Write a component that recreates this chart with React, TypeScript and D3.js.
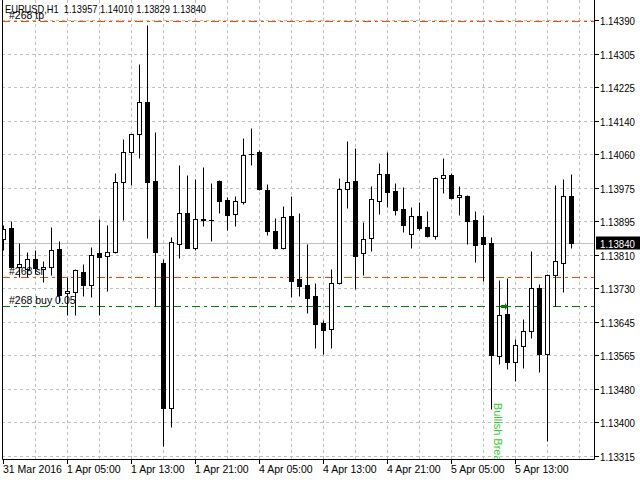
import { useEffect, useRef } from 'react';
import * as d3 from 'd3';

// EURUSD H1 bars, 31 Mar 21:00 .. 5 Apr 20:00
const opens = [
  1.1385, 1.13877, 1.13781, 1.13776, 1.13801, 1.13776, 1.13781, 1.13825, 1.13717, 1.13719,
  1.13769, 1.13737, 1.13815, 1.13808, 1.13818, 1.13991, 1.14065, 1.14109, 1.14188, 1.13993,
  1.13791, 1.13433, 1.13838, 1.13914, 1.13828, 1.13898, 1.13897, 1.13993, 1.13946, 1.13912,
  1.13941, 1.1406, 1.14065, 1.13971, 1.1387, 1.13828, 1.13907, 1.13751, 1.13737, 1.1371,
  1.13643, 1.13628, 1.13742, 1.13973, 1.13993, 1.13815, 1.13852, 1.13944, 1.1401, 1.13968,
  1.13924, 1.13862, 1.13907, 1.1388, 1.13857, 1.14, 1.14008, 1.13954, 1.13956, 1.13897,
  1.13855, 1.1384, 1.13562, 1.13665, 1.13547, 1.13586, 1.13623, 1.13729, 1.13567, 1.13761,
  1.13791, 1.13957,
];
const highs = [
  1.13885, 1.13894, 1.1384, 1.13818, 1.13823, 1.13796, 1.1388, 1.13845, 1.13756, 1.13776,
  1.13788, 1.1383, 1.13899, 1.13885, 1.14013, 1.14097, 1.14109, 1.14282, 1.14378, 1.14114,
  1.13801, 1.13855, 1.14033, 1.14008, 1.13998, 1.14028, 1.13988, 1.13996, 1.13954, 1.13956,
  1.14099, 1.14124, 1.14069, 1.13986, 1.13902, 1.13931, 1.13956, 1.13914, 1.13838, 1.13742,
  1.1365, 1.13776, 1.14, 1.14092, 1.14074, 1.13892, 1.13981, 1.14037, 1.14065, 1.13988,
  1.13978, 1.13929, 1.13941, 1.13919, 1.14003, 1.1405, 1.14013, 1.13981, 1.13958, 1.13919,
  1.13909, 1.13855, 1.13749, 1.13754, 1.13603, 1.13653, 1.1382, 1.13739, 1.13763, 1.13983,
  1.13998, 1.1401,
];
const lows = [
  1.13823, 1.13779, 1.13756, 1.13756, 1.13764, 1.13744, 1.13761, 1.13695, 1.13663, 1.13663,
  1.1371, 1.13707, 1.13663, 1.13722, 1.13816, 1.13897, 1.13983, 1.1405, 1.13852, 1.13685,
  1.1334, 1.13387, 1.13803, 1.13828, 1.13823, 1.13882, 1.13845, 1.13914, 1.13872, 1.13882,
  1.13936, 1.14033, 1.1397, 1.1386, 1.13825, 1.13825, 1.13707, 1.1371, 1.13668, 1.13581,
  1.13567, 1.13581, 1.1374, 1.13926, 1.13727, 1.13761, 1.1382, 1.13912, 1.13929, 1.13909,
  1.13867, 1.13828, 1.13872, 1.13855, 1.1385, 1.13963, 1.13949, 1.13909, 1.13838, 1.13793,
  1.13747, 1.13431, 1.13542, 1.1353, 1.135, 1.13532, 1.13606, 1.13522, 1.13352, 1.13685,
  1.13719, 1.13829,
];
const closes = [
  1.13875, 1.13781, 1.13788, 1.13801, 1.13779, 1.13781, 1.13823, 1.13712, 1.13722, 1.13774,
  1.13737, 1.13811, 1.13806, 1.13818, 1.13991, 1.14065, 1.14109, 1.14188, 1.13991, 1.13818,
  1.13433, 1.13843, 1.13914, 1.13828, 1.13899, 1.13899, 1.13897, 1.13944, 1.13909, 1.13944,
  1.14057, 1.1406, 1.13973, 1.1387, 1.13828, 1.13904, 1.13747, 1.13734, 1.13705, 1.1364,
  1.13626, 1.13742, 1.13973, 1.13991, 1.13808, 1.1385, 1.13949, 1.1401, 1.13966, 1.13922,
  1.13885, 1.13907, 1.13877, 1.13857, 1.14, 1.14008, 1.13951, 1.13958, 1.13894, 1.13835,
  1.13838, 1.13564, 1.13663, 1.13547, 1.13589, 1.13623, 1.13729, 1.13567, 1.13761, 1.13796,
  1.13956, 1.1384,
];

const timeLabels = [
  '31 Mar 2016', '1 Apr 05:00', '1 Apr 13:00', '1 Apr 21:00', '4 Apr 05:00',
  '4 Apr 13:00', '4 Apr 21:00', '5 Apr 05:00', '5 Apr 13:00',
];
const barsPerLabel = 8;
const barsPerGrid = 4;

const priceTicks = [
  1.1439, 1.14305, 1.14225, 1.1414, 1.1406, 1.13975, 1.13895,
  1.1381, 1.1373, 1.13645, 1.13565, 1.1348, 1.134, 1.13315,
];

const symbol = 'EURUSD,H1';
const bid = 1.1384;

const orderNames = ['#268 tp', '#268 sl', '#268 buy 0.05'];
const orderPrices = [1.14388, 1.13756, 1.13685];
const orderColors = ['#ff4500', '#ff4500', '#008000'];

const entryBar = 63;
const signalBar = 61;
const signalPrice = 1.13446;
const signalText = 'Bullish Break';

const W = 640;
const H = 480;
const FONT = "'Liberation Sans', Arial, sans-serif";

export default function App() {
  const svgRef = useRef<SVGSVGElement>(null);

  useEffect(() => {
    if (!svgRef.current) return;
    const svg = d3.select(svgRef.current);
    svg.selectAll('*').remove();

    const n = opens.length;
    const left = 2, right = 594, bottom = 459;

    const x = d3.scaleLinear().domain([0, n - 1]).range([3, 3 + 8 * (n - 1)]);
    const y = d3.scaleLinear().domain([1.13315, 1.1439]).range([456, 20]);
    const px = (i: number) => Math.round(x(i)) + 0.5;
    const py = (p: number) => Math.round(y(p)) + 0.5;

    svg.append('rect').attr('width', W).attr('height', H).attr('fill', '#fff');

    svg.append('defs').append('clipPath').attr('id', 'plotClip')
      .append('rect').attr('x', left + 1).attr('y', 0)
      .attr('width', right - left - 1).attr('height', bottom);

    const plot = svg.append('g').attr('clip-path', 'url(#plotClip)');

    // grid
    plot.selectAll('line.vg')
      .data(d3.range(barsPerGrid, n + 1, barsPerGrid))
      .join('line')
      .attr('x1', (i) => px(i)).attr('x2', (i) => px(i))
      .attr('y1', 0).attr('y2', bottom)
      .attr('stroke', '#c0c0c0').attr('stroke-dasharray', '3,3');

    plot.selectAll('line.hg')
      .data(priceTicks)
      .join('line')
      .attr('x1', left).attr('x2', right)
      .attr('y1', (d) => py(d)).attr('y2', (d) => py(d))
      .attr('stroke', '#c0c0c0').attr('stroke-dasharray', '3,3');

    // bid line
    plot.append('line')
      .attr('x1', left).attr('x2', right)
      .attr('y1', py(bid)).attr('y2', py(bid))
      .attr('stroke', '#c0c0c0');

    // order lines
    orderPrices.forEach((p, k) => {
      plot.append('line')
        .attr('x1', left).attr('x2', right)
        .attr('y1', py(p)).attr('y2', py(p))
        .attr('stroke', orderColors[k])
        .attr('stroke-dasharray', '8,4,3,4');
    });

    // candles
    d3.range(n).forEach((i) => {
      const o = opens[i], c = closes[i];
      const cx = px(i);
      plot.append('line')
        .attr('x1', cx).attr('x2', cx)
        .attr('y1', py(highs[i])).attr('y2', py(lows[i]))
        .attr('stroke', '#000');
      const top = Math.round(y(Math.max(o, c)));
      const bot = Math.round(y(Math.min(o, c)));
      if (bot - top < 1) {
        plot.append('line')
          .attr('x1', cx - 2.5).attr('x2', cx + 2.5)
          .attr('y1', top + 0.5).attr('y2', top + 0.5)
          .attr('stroke', '#000');
      } else {
        plot.append('rect')
          .attr('x', cx - 2).attr('y', top + 0.5)
          .attr('width', 4).attr('height', bot - top)
          .attr('fill', c >= o ? '#fff' : '#000')
          .attr('stroke', '#000');
      }
    });

    // order labels
    orderPrices.forEach((p, k) => {
      plot.append('text')
        .attr('x', 9).attr('y', py(p) - 2.5)
        .attr('font-family', FONT).attr('font-size', 10.5)
        .text(orderNames[k]);
    });

    // entry arrow
    const ax = Math.round(x(entryBar)) - 2;
    const ay = Math.round(y(orderPrices[2]));
    plot.append('path')
      .attr('d', `M${ax - 4},${ay - 1}H${ax}V${ay - 3}L${ax + 3},${ay + 0.5}L${ax},${ay + 4}V${ay + 2}H${ax - 4}Z`)
      .attr('fill', '#008000');

    // signal text
    plot.append('text')
      .attr('transform', `translate(${Math.round(x(signalBar)) + 3},${y(signalPrice)}) rotate(90)`)
      .attr('font-family', FONT).attr('font-size', 11)
      .attr('fill', '#32cd32')
      .text(signalText);

    // header
    const last = n - 1;
    svg.append('text')
      .attr('x', 5).attr('y', 13)
      .attr('font-family', FONT).attr('font-size', 10.5)
      .attr('xml:space', 'preserve')
      .attr('textLength', 201).attr('lengthAdjust', 'spacingAndGlyphs')
      .text(`${symbol}  ${[opens[last], highs[last], lows[last], closes[last]].map((v) => v.toFixed(5)).join(' ')}`);

    // frame
    svg.append('path')
      .attr('d', `M${left + 0.5},0V${bottom + 0.5}H${right + 0.5}V0`)
      .attr('fill', 'none').attr('stroke', '#000');

    // price axis
    const pa = svg.append('g');
    pa.selectAll('line')
      .data(priceTicks)
      .join('line')
      .attr('x1', right + 1).attr('x2', right + 5)
      .attr('y1', (d) => py(d)).attr('y2', (d) => py(d))
      .attr('stroke', '#000');
    pa.selectAll('text')
      .data(priceTicks)
      .join('text')
      .attr('x', 600).attr('y', (d) => py(d) + 4)
      .attr('font-family', FONT).attr('font-size', 10.5)
      .attr('textLength', 35).attr('lengthAdjust', 'spacingAndGlyphs')
      .text((d) => d.toFixed(5));

    pa.append('rect')
      .attr('x', 596).attr('y', py(bid) - 7)
      .attr('width', 44).attr('height', 13)
      .attr('fill', '#000');
    pa.append('text')
      .attr('x', 600).attr('y', py(bid) + 4)
      .attr('font-family', FONT).attr('font-size', 10.5)
      .attr('textLength', 35).attr('lengthAdjust', 'spacingAndGlyphs')
      .attr('fill', '#fff')
      .text(bid.toFixed(5));

    // time axis
    const ta = svg.append('g');
    const labelBars = timeLabels.map((_, k) => k * barsPerLabel);
    ta.selectAll('line')
      .data(labelBars)
      .join('line')
      .attr('x1', (i) => px(i)).attr('x2', (i) => px(i))
      .attr('y1', bottom + 1).attr('y2', bottom + 5)
      .attr('stroke', '#000');
    ta.selectAll('text')
      .data(labelBars)
      .join('text')
      .attr('x', (i) => Math.round(x(i)))
      .attr('y', 473)
      .attr('font-family', FONT).attr('font-size', 10.5)
      .text((_, k) => timeLabels[k]);
  }, []);

  return (
    <svg
      ref={svgRef}
      width={W}
      height={H}
      style={{ position: 'absolute', left: 0, top: 0, display: 'block' }}
    />
  );
}
